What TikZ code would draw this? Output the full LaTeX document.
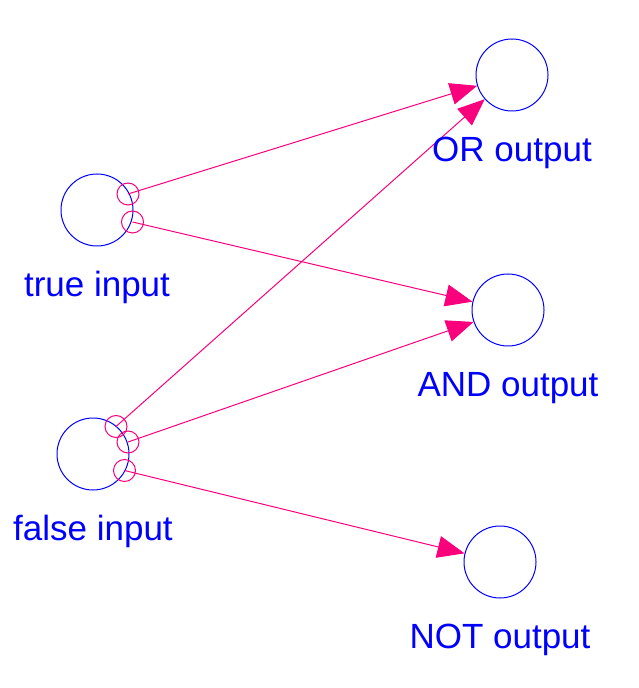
\documentclass[tikz,border=0pt]{standalone}
\usepackage{fontspec}
\setmainfont{Liberation Sans}
\usetikzlibrary{arrows.meta,positioning}
\definecolor{unitblue}{RGB}{0,0,255}
\definecolor{wirepink}{RGB}{250,0,125}

\begin{document}
\begin{tikzpicture}[x=0.5pt,y=-0.5pt,line width=0.5pt,
    unit/.style={circle,draw=unitblue,minimum size=36pt,inner sep=0pt},
    tap/.style={circle,draw=wirepink,minimum size=11pt,inner sep=0pt},
    lbl/.style={text=unitblue,font=\fontsize{17.5}{21}\selectfont,anchor=base},
    wire/.style={draw=wirepink,-{Triangle[length=13.5pt,width=11pt]}}]
\useasboundingbox (0,0) rectangle (638,688);

%draw input and output units
    \node[unit] (trueIn) at (97,210) {};
    \node[unit] (falseIn) at (93,454) {};
    \node[unit] (orOut) at (512,75) {};
    \node[unit] (andOut) at (508,310) {};
    \node[unit] (notOut) at (500,562) {};

%draw taps where the wires leave the inputs
    \node[tap] (trueA) at (128,194) {};
    \node[tap] (trueB) at (132.5,222) {};
    \node[tap] (falseA) at (116,426.5) {};
    \node[tap] (falseB) at (128,442) {};
    \node[tap] (falseC) at (124.5,470.5) {};

%draw wires
    \draw[wire] (trueA.center) -- (orOut);
    \draw[wire] (trueB.center) -- (andOut);
    \draw[wire] (falseA.center) -- (orOut);
    \draw[wire] (falseB.center) -- (andOut);
    \draw[wire] (falseC.center) -- (notOut);

%draw labels
    \node[lbl] (trueLbl) at ([yshift=-25pt]trueIn.south) {true input};
    \node[lbl] (falseLbl) at ([yshift=-25pt]falseIn.south) {false input};
    \node[lbl] (orLbl) at ([yshift=-25pt]orOut.south) {OR output};
    \node[lbl] (andLbl) at ([yshift=-25pt]andOut.south) {AND output};
    \node[lbl] (notLbl) at ([yshift=-25pt]notOut.south) {NOT output};
\end{tikzpicture}
\end{document}
